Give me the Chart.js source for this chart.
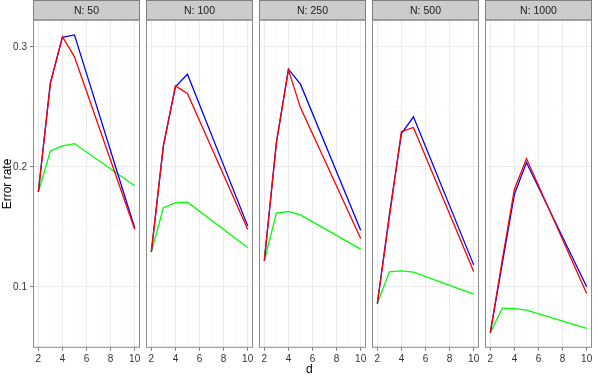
<!DOCTYPE html>
<html lang="en">
<head>
    <meta charset="UTF-8">
    <title>Error rate by d</title>
    <script src="https://cdn.jsdelivr.net/npm/chart.js"></script>
    <style>
        body { margin: 0; background: #fff; }
        .wrap { position: relative; width: 598px; height: 377px; background: #fff; }
        .wrap canvas { position: absolute; left: 0; top: 0; }
        .axis-title { position: absolute; font-family: 'Liberation Sans', Arial, sans-serif; font-size: 12px; color: #000; white-space: nowrap; }
        #xTitle { left: 306px; top: 362px; }
        #yTitle { left: -20px; top: 177px; transform: rotate(-90deg); width: 54px; text-align: center; }
    </style>
</head>
<body>
    <div class="wrap" id="wrap">
        <div class="axis-title" id="xTitle">d</div>
        <div class="axis-title" id="yTitle">Error rate</div>
    </div>

    <script>
        // data
        const panelLabels = ['N: 50', 'N: 100', 'N: 250', 'N: 500', 'N: 1000'];
        const dValues = [2, 3, 4, 5, 10];
        const xTicks = [2, 3, 4, 5, 6, 7, 8, 9, 10];
        const yTicks = [0.1, 0.15, 0.2, 0.25, 0.3];

        const blueSeries = [
            [0.179, 0.270, 0.308, 0.310, 0.149],
            [0.129, 0.2175, 0.2667, 0.2772, 0.1508],
            [0.1217, 0.220, 0.2814, 0.2689, 0.1472],
            [0.0861, 0.160, 0.2278, 0.2417, 0.1183],
            [0.0619, 0.120, 0.1772, 0.2036, 0.100]
        ];
        const redSeries = [
            [0.179, 0.2694, 0.3086, 0.2917, 0.148],
            [0.129, 0.2175, 0.2675, 0.2611, 0.148],
            [0.1217, 0.220, 0.2808, 0.2494, 0.1403],
            [0.0861, 0.158, 0.2294, 0.2328, 0.1128],
            [0.0619, 0.123, 0.1814, 0.2069, 0.0944]
        ];
        const greenSeries = [
            [0.179, 0.2133, 0.2175, 0.2194, 0.1842],
            [0.129, 0.166, 0.170, 0.1706, 0.1328],
            [0.1217, 0.1614, 0.1628, 0.160, 0.1314],
            [0.0861, 0.1125, 0.1133, 0.1122, 0.0939],
            [0.062, 0.0822, 0.0819, 0.0806, 0.0653]
        ];

        const W = 598, H = 377;
        const panelW = 106, panelGap = 7, firstLeft = 33.5;
        const stripTop = 0.5, plotTop = 20, plotBottom = 347.3;
        const fontFamily = "'Liberation Sans', Arial, sans-serif";

        const isMajorY = v => Math.abs(v * 10 - Math.round(v * 10)) < 1e-6;

        // grey strip + panel border, like facet_wrap
        const facetPlugin = {
            id: 'facet',
            afterDraw(chart, args, opts) {
                const ctx = chart.ctx;
                const a = chart.chartArea;
                ctx.save();
                ctx.fillStyle = '#cccccc';
                ctx.strokeStyle = '#7f7f7f';
                ctx.lineWidth = 1;
                ctx.fillRect(a.left, stripTop, a.right - a.left, a.top - stripTop);
                ctx.strokeRect(a.left, stripTop, a.right - a.left, a.top - stripTop);
                ctx.strokeStyle = '#8c8c8c';
                ctx.strokeRect(a.left, a.top, a.right - a.left, a.bottom - a.top);
                ctx.fillStyle = '#1a1a1a';
                ctx.font = '10.5px ' + fontFamily;
                ctx.textAlign = 'center';
                ctx.textBaseline = 'middle';
                ctx.fillText(opts.label, (a.left + a.right) / 2, (stripTop + a.top) / 2 + 0.5);
                ctx.restore();
            }
        };

        const wrap = document.getElementById('wrap');

        panelLabels.forEach((label, i) => {
            const canvas = document.createElement('canvas');
            canvas.width = W;
            canvas.height = H;
            wrap.insertBefore(canvas, wrap.firstChild);

            const left = firstLeft + i * (panelW + panelGap);
            const right = left + panelW;
            const yAxisW = i === 0 ? left : 0;

            const line = (data, color) => ({
                data: dValues.map((d, k) => ({ x: d, y: data[i][k] })),
                borderColor: color,
                borderWidth: 1.3,
                pointRadius: 0,
                tension: 0,
                fill: false
            });

            new Chart(canvas, {
                type: 'line',
                data: {
                    datasets: [
                        line(redSeries, '#ff0000'),
                        line(blueSeries, '#0000ff'),
                        line(greenSeries, '#00ff00')
                    ]
                },
                options: {
                    responsive: false,
                    animation: false,
                    events: [],
                    layout: {
                        padding: { left: left - yAxisW, right: W - right, top: plotTop, bottom: 0 }
                    },
                    plugins: {
                        legend: { display: false },
                        tooltip: { enabled: false },
                        facet: { label: label }
                    },
                    scales: {
                        x: {
                            type: 'linear',
                            min: 1.6,
                            max: 10.4,
                            afterBuildTicks: s => { s.ticks = xTicks.map(v => ({ value: v })); },
                            afterFit: s => { s.height = H - plotBottom; },
                            border: { display: false },
                            grid: {
                                color: c => c.tick && c.tick.value % 2 === 0 ? '#ebebeb' : '#fafafa',
                                tickColor: c => c.tick && c.tick.value % 2 === 0 ? '#7f7f7f' : 'rgba(0,0,0,0)',
                                tickLength: 3.5
                            },
                            ticks: {
                                autoSkip: false,
                                maxRotation: 0,
                                minRotation: 0,
                                padding: 2,
                                color: '#333333',
                                font: { family: fontFamily, size: 10 },
                                callback: v => v % 2 === 0 ? String(v) : ''
                            }
                        },
                        y: {
                            type: 'linear',
                            min: 0.0496,
                            max: 0.3224,
                            afterBuildTicks: s => { s.ticks = yTicks.map(v => ({ value: v })); },
                            afterFit: s => { s.width = yAxisW; },
                            border: { display: false },
                            grid: {
                                color: c => c.tick && isMajorY(c.tick.value) ? '#ebebeb' : '#fafafa',
                                tickColor: c => i === 0 && c.tick && isMajorY(c.tick.value) ? '#7f7f7f' : 'rgba(0,0,0,0)',
                                tickLength: 3.5,
                                drawTicks: i === 0
                            },
                            ticks: {
                                display: i === 0,
                                autoSkip: false,
                                padding: 3,
                                color: '#333333',
                                font: { family: fontFamily, size: 10 },
                                callback: v => isMajorY(v) ? v.toFixed(1) : ''
                            }
                        }
                    }
                },
                plugins: [facetPlugin]
            });
        });
    </script>
</body>
</html>
